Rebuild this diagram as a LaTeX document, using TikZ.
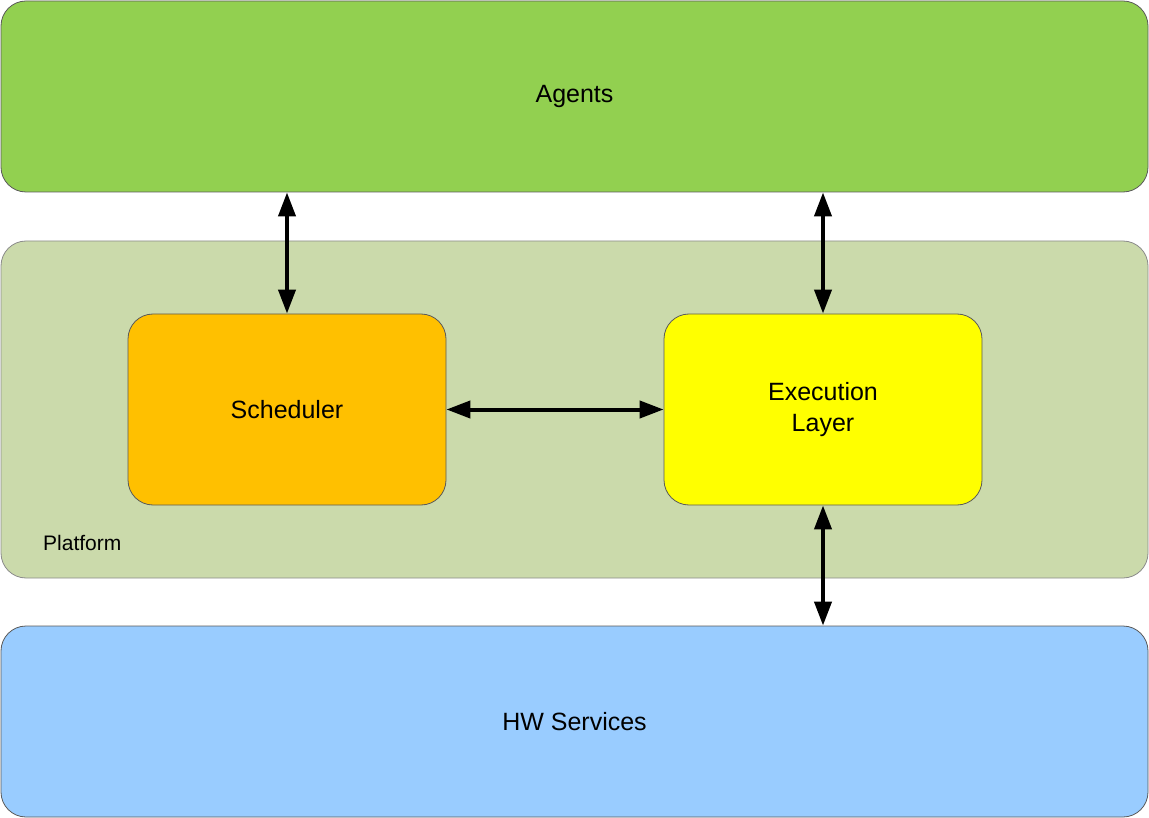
\documentclass[tikz,border=0pt]{standalone}
\usepackage{fontspec}
\setmainfont{Liberation Sans}
\usetikzlibrary{arrows.meta}
\definecolor{agentsc}{HTML}{92D050}
\definecolor{platc}{HTML}{CBDAAB}
\definecolor{schedc}{HTML}{FFC000}
\definecolor{execc}{HTML}{FFFF00}
\definecolor{hwc}{HTML}{99CCFF}
\definecolor{edgec}{HTML}{5A5A5A}
\tikzset{
  box/.style={draw=edgec, line width=0.8pt, rounded corners=25pt, inner sep=0pt, font=\fontsize{25}{31}\selectfont, align=center},
  link/.style={line width=4pt, {Triangle[length=24pt,width=17pt]}-{Triangle[length=24pt,width=17pt]}},
}
\begin{document}
\begin{tikzpicture}[x=1pt,y=-1pt]
\useasboundingbox (0,0) rectangle (1149,818);
\node[box, fill=agentsc, minimum width=1147pt, minimum height=191pt] (agents) at (574.5,96.5) {\raisebox{-2pt}{Agents}};
\node[box, fill=platc, draw=edgec!70, minimum width=1147pt, minimum height=337pt] (platform) at (574.5,409.5) {};
\node[box, fill=hwc, minimum width=1147pt, minimum height=191pt] (hw) at (574.5,721.5) {HW Services};
\node[box, fill=schedc, minimum width=318pt, minimum height=191pt] (sched) at (287,409.5) {Scheduler};
\node[box, fill=execc, minimum width=318pt, minimum height=191pt] (exec) at (823,409.5) {Execution\\Layer};
\node[anchor=west, inner sep=0pt, font=\fontsize{21}{24}\selectfont] (plabel) at (43,543) {Platform};
\draw[link] (sched.north) -- (sched.north |- agents.south);
\draw[link] (exec.north) -- (exec.north |- agents.south);
\draw[link] (exec.south) -- (exec.south |- hw.north);
\draw[link] (sched.east) -- (exec.west);
\end{tikzpicture}
\end{document}
